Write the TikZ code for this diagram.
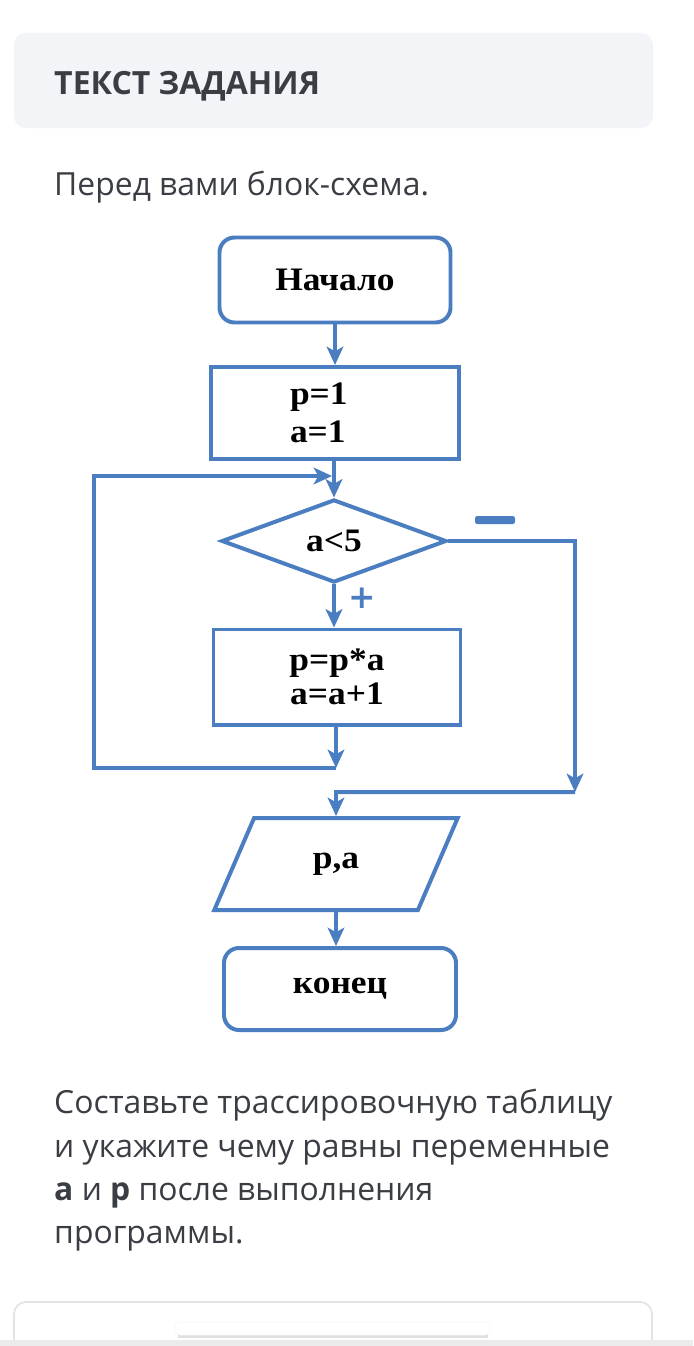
\documentclass[tikz,border=0pt]{standalone}
\usepackage{fontspec}
\setmainfont{Open Sans}
\newfontfamily\schemefont[FakeStretch=1.08]{Liberation Serif}
\newfontfamily\signfont{DejaVu Sans}
\usetikzlibrary{shapes.geometric,arrows.meta}
\definecolor{schblue}{RGB}{74,126,193}
\definecolor{pagetext}{RGB}{58,62,68}
\definecolor{headfill}{RGB}{242,244,247}
\definecolor{cardline}{RGB}{226,228,231}
\newcommand{\pxl}{0.03cm}

\begin{document}
\begin{tikzpicture}[x=0.03cm, y=-0.03cm,
    line/.style = {draw=schblue, line width=3.4pt},
    arr/.style = {line, -{Stealth[length=0.55cm,width=0.5cm,inset=0.14cm]}},
    schtext/.style = {text=black, font=\schemefont\bfseries\fontsize{28}{29.5}\selectfont},
    term/.style = {line, schtext, rectangle, rounded corners=0.45cm},
    block/.style = {line, schtext, rectangle},
    cond/.style = {line, schtext, diamond, inner sep=0pt},
    io/.style = {line, schtext, trapezium, trapezium stretches=true,
                 trapezium left angle=63.4, trapezium right angle=116.6, inner sep=0pt},
    para/.style = {anchor=base west, inner sep=0pt, text=pagetext,
                   font=\fontsize{27.2}{44}\selectfont}]

    \useasboundingbox[fill=white] (0,0) rectangle (693,1346);

    \fill[headfill, rounded corners=0.36cm] (14,33) rectangle (653,128);
    \node[para, font=\bfseries\fontsize{27.3}{34}\selectfont] (title) at (54,94) {ТЕКСТ ЗАДАНИЯ};
    \node[para] (intro) at (54,195) {Перед вами блок-схема.};

    \node[term, minimum width=231*\pxl, minimum height=85*\pxl] (start) at (335,280) {Начало};
    \node[block, minimum width=248*\pxl, minimum height=92*\pxl, text width=90*\pxl, align=left] (init) at (335,413) {p=1\\[3pt]a=1};
    \node[cond, minimum width=225*\pxl, minimum height=83*\pxl] (check) at (334,541) {a<5};
    \node[block, minimum width=247*\pxl, minimum height=95*\pxl, align=center] (body) at (337,677) {p=p*a\\a=a+1};
    \node[io, minimum width=244*\pxl, minimum height=92*\pxl] (output) at (336,864) {p,a};
    \node[term, minimum width=232*\pxl, minimum height=82*\pxl] (finish) at (340,989) {конец};

    \node[fill=schblue, rounded corners=2pt, minimum width=40*\pxl, minimum height=8*\pxl, inner sep=0pt] (minus) at (495,520) {};
    \node[text=schblue, font=\signfont\bfseries\fontsize{28}{28}\selectfont, inner sep=0pt] (plus) at (362,598) {+};

    \coordinate (back) at (336,768);
    \coordinate (leftx) at (94,476);
    \coordinate (backin) at (332,476);
    \coordinate (rightx) at (575,792);
    \coordinate (merge) at (336,792);

    \draw[arr] (start) -- (init);
    \draw[arr] (init.south -| check.north) -- (check);
    \draw[arr] (check) -- (check |- body.north);
    \draw[arr] (body.south -| back) -- (back);
    \draw[arr] (back) -| (leftx) -- (backin);
    \draw[arr] (check.east) -| (rightx);
    \draw[arr] (rightx) -- (merge) -- (output);
    \draw[arr] (output) -- (output |- finish.north);

    \node[para] (task1) at (54,1113) {Составьте трассировочную таблицу};
    \node[para] (task2) at (54,1157) {и укажите чему равны переменные};
    \node[para] (task3) at (54,1200) {\textbf{а} и \textbf{р} после выполнения};
    \node[para] (task4) at (54,1243) {программы.};

    \draw[cardline, line width=1.5pt, fill=white, rounded corners=0.36cm] (14,1302) rectangle (652,1400);
    \fill[black!12] (178,1327) rectangle (488,1338);
    \fill[white, draw=black!4, rounded corners=4pt] (175,1322) rectangle (490,1335);
    \fill[black!8] (0,1340) rectangle (693,1346);
\end{tikzpicture}
\end{document}
